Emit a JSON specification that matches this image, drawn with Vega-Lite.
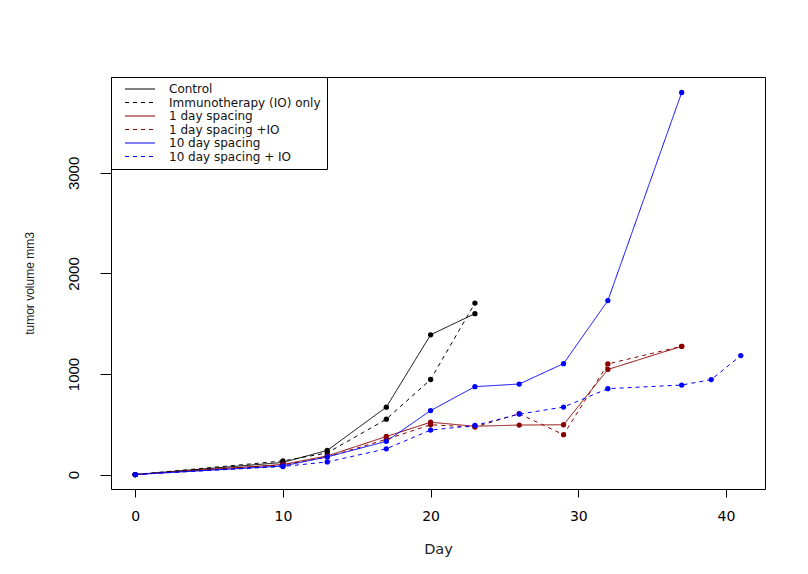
{
  "$schema": "https://vega.github.io/schema/vega-lite/v6.json",
  "width": 654,
  "height": 412,
  "autosize": "none",
  "padding": {"left": 111, "top": 77, "right": 43, "bottom": 85},
  "background": "white",
  "config": {
    "font": "Liberation Sans",
    "view": {"stroke": "black", "strokeWidth": 1},
    "axis": {
      "domain": false, "grid": false, "tickColor": "black",
      "labelColor": "black", "titleColor": "#222", "titleFontWeight": "normal", "format": "d"
    },
    "legend": {
      "orient": "top-left", "offset": 0, "padding": 6, "strokeColor": "black", "fillColor": "white",
      "labelFont": "DejaVu Sans", "labelFontSize": 12, "labelColor": "#111", "labelLimit": 300,
      "symbolType": "M-3,0H3", "symbolSize": 100, "symbolStrokeWidth": 1,
      "symbolOffset": 17, "labelOffset": 23, "rowPadding": 1.5
    }
  },
  "data": {"values": [
    {"series": "Control", "day": 0, "vol": 0},
    {"series": "Control", "day": 10, "vol": 120},
    {"series": "Control", "day": 13, "vol": 240},
    {"series": "Control", "day": 17, "vol": 670},
    {"series": "Control", "day": 20, "vol": 1390},
    {"series": "Control", "day": 23, "vol": 1600},
    {"series": "Immunotherapy (IO) only", "day": 0, "vol": 0},
    {"series": "Immunotherapy (IO) only", "day": 10, "vol": 135},
    {"series": "Immunotherapy (IO) only", "day": 13, "vol": 215},
    {"series": "Immunotherapy (IO) only", "day": 17, "vol": 550},
    {"series": "Immunotherapy (IO) only", "day": 20, "vol": 945},
    {"series": "Immunotherapy (IO) only", "day": 23, "vol": 1705},
    {"series": "1 day spacing", "day": 0, "vol": 0},
    {"series": "1 day spacing", "day": 10, "vol": 100},
    {"series": "1 day spacing", "day": 13, "vol": 185},
    {"series": "1 day spacing", "day": 17, "vol": 378},
    {"series": "1 day spacing", "day": 20, "vol": 520},
    {"series": "1 day spacing", "day": 23, "vol": 480},
    {"series": "1 day spacing", "day": 26, "vol": 492},
    {"series": "1 day spacing", "day": 29, "vol": 495},
    {"series": "1 day spacing", "day": 32, "vol": 1045},
    {"series": "1 day spacing", "day": 37, "vol": 1275},
    {"series": "1 day spacing +IO", "day": 0, "vol": 0},
    {"series": "1 day spacing +IO", "day": 10, "vol": 95},
    {"series": "1 day spacing +IO", "day": 13, "vol": 175},
    {"series": "1 day spacing +IO", "day": 17, "vol": 350},
    {"series": "1 day spacing +IO", "day": 20, "vol": 495},
    {"series": "1 day spacing +IO", "day": 23, "vol": 472},
    {"series": "1 day spacing +IO", "day": 26, "vol": 605},
    {"series": "1 day spacing +IO", "day": 29, "vol": 396},
    {"series": "1 day spacing +IO", "day": 32, "vol": 1100},
    {"series": "1 day spacing +IO", "day": 37, "vol": 1275},
    {"series": "10 day spacing", "day": 0, "vol": 0},
    {"series": "10 day spacing", "day": 10, "vol": 85},
    {"series": "10 day spacing", "day": 13, "vol": 175},
    {"series": "10 day spacing", "day": 17, "vol": 330},
    {"series": "10 day spacing", "day": 20, "vol": 636},
    {"series": "10 day spacing", "day": 23, "vol": 874},
    {"series": "10 day spacing", "day": 26, "vol": 900},
    {"series": "10 day spacing", "day": 29, "vol": 1103},
    {"series": "10 day spacing", "day": 32, "vol": 1730},
    {"series": "10 day spacing", "day": 37, "vol": 3800},
    {"series": "10 day spacing + IO", "day": 0, "vol": 0},
    {"series": "10 day spacing + IO", "day": 10, "vol": 80},
    {"series": "10 day spacing + IO", "day": 13, "vol": 125},
    {"series": "10 day spacing + IO", "day": 17, "vol": 256},
    {"series": "10 day spacing + IO", "day": 20, "vol": 442},
    {"series": "10 day spacing + IO", "day": 23, "vol": 488},
    {"series": "10 day spacing + IO", "day": 26, "vol": 601},
    {"series": "10 day spacing + IO", "day": 29, "vol": 671},
    {"series": "10 day spacing + IO", "day": 32, "vol": 854},
    {"series": "10 day spacing + IO", "day": 37, "vol": 890},
    {"series": "10 day spacing + IO", "day": 39, "vol": 944},
    {"series": "10 day spacing + IO", "day": 41, "vol": 1183}
  ]},
  "encoding": {
    "x": {"field": "day", "type": "quantitative",
      "scale": {"domain": [-1.64, 42.64], "nice": false, "zero": false},
      "axis": {"values": [0, 10, 20, 30, 40], "title": "Day", "tickSize": 8,
        "labelFont": "DejaVu Sans", "labelFontSize": 14, "labelPadding": 12,
        "titleFont": "DejaVu Sans", "titleFontSize": 14.5, "titlePadding": 19}},
    "y": {"field": "vol", "type": "quantitative",
      "scale": {"domain": [-144, 3954], "nice": false, "zero": false},
      "axis": {"values": [0, 1000, 2000, 3000], "title": "tumor volume mm3", "tickSize": 11,
        "labelFont": "Liberation Sans", "labelFontSize": 15,
        "labelAngle": 270, "labelAlign": "center", "labelBaseline": "bottom", "labelPadding": 19,
        "titleFont": "Liberation Sans", "titleFontSize": 12, "titlePadding": 30}},
    "color": {"field": "series", "type": "nominal", "title": null,
      "scale": {"domain": ["Control", "Immunotherapy (IO) only", "1 day spacing", "1 day spacing +IO", "10 day spacing", "10 day spacing + IO"],
        "range": ["#000000", "#000000", "#8b0000", "#8b0000", "#0000ff", "#0000ff"]},
      "legend": {"encode": {"symbols": {"update": {
        "stroke": {"scale": "color", "field": "value"},
        "strokeDash": {"scale": "strokeDash", "field": "value"},
        "fill": {"value": "transparent"},
        "strokeWidth": {"value": 1},
        "opacity": {"value": 1}}}}}}
  },
  "layer": [
    {
      "mark": {"type": "line", "strokeWidth": 1},
      "encoding": {
        "strokeDash": {"field": "series", "type": "nominal", "legend": null,
          "scale": {"domain": ["Control", "Immunotherapy (IO) only", "1 day spacing", "1 day spacing +IO", "10 day spacing", "10 day spacing + IO"],
            "range": [[1, 0], [4, 4], [1, 0], [4, 4], [1, 0], [4, 4]]}}
      }
    },
    {
      "mark": {"type": "circle", "size": 28, "opacity": 1}
    }
  ]
}
